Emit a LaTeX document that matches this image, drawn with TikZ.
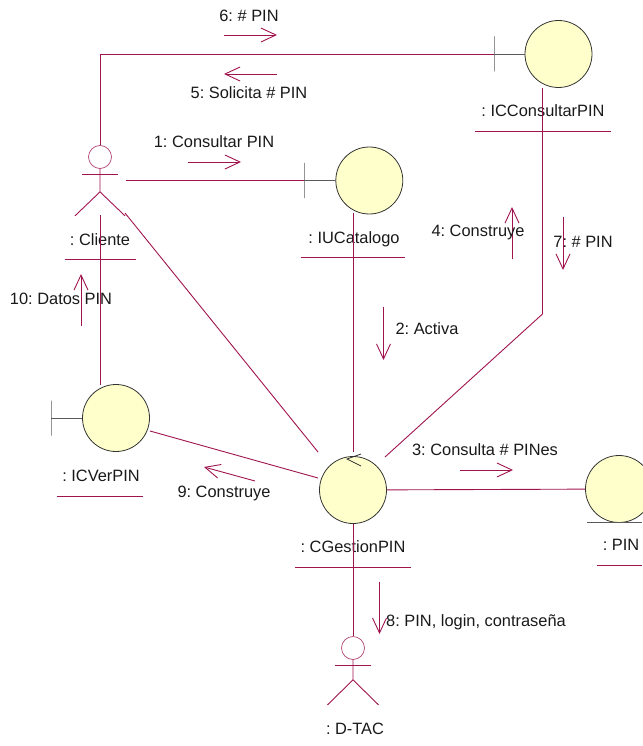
\documentclass[tikz,border=0pt]{standalone}
\usepackage{fontspec}
\setmainfont{Liberation Sans}
\frenchspacing
\usetikzlibrary{arrows.meta}
\definecolor{linkred}{RGB}{160,20,78}
\definecolor{bargray}{RGB}{90,90,90}
\definecolor{ballfill}{RGB}{255,255,204}
\begin{document}
\begin{tikzpicture}[x=1pt,y=-1pt,line width=0.9pt,
        ball/.style={circle,draw=black!80,fill=ballfill,line width=0.8pt,minimum size=67pt,inner sep=0pt},
        head/.style={circle,draw=linkred!80,line width=0.7pt,minimum size=23pt,inner sep=0pt},
        bar/.style={draw=bargray,minimum height=35pt,minimum width=0pt,inner sep=0pt,outer sep=0pt,line width=0.8pt},
        lbl/.style={font=\fontsize{16.4}{19}\selectfont,text=black!90,inner sep=0pt,text height=11.8pt,text depth=0pt},
        link/.style={draw=linkred},
        msg/.style={draw=linkred,-{Straight Barb[length=15pt,width=14pt,line width=0.9pt]}}]
        \useasboundingbox (0,0) rectangle (642,746);

        % links under everything
        \node[bar] (bar1) at (494,54) {};
        \node[bar] (bar2) at (304,180.5) {};
        \node[bar] (bar3) at (51,418) {};

        \node[ball] (consultar) at (558.5,54) {};
        \node[ball] (catalogo) at (369.3,180.5) {};
        \node[ball] (verpin) at (116,418) {};
        \node[ball] (gestion) at (353,490) {};
        \node[ball] (pin) at (619,489) {};

        \node[head] (cliente) at (100,157) {};
        \node[head] (dtac) at (353,648) {};

        \node[lbl] (lcliente) at (100,240) {: Cliente};
        \node[lbl] (lcatalogo) at (354,238) {: IUCatalogo};
        \node[lbl] (lconsultar) at (543,111) {: ICConsultarPIN};
        \node[lbl] (lverpin) at (101,476) {: ICVerPIN};
        \node[lbl] (lgestion) at (353,547) {: CGestionPIN};
        \node[lbl] (lpin) at (621,545) {: PIN};
        \node[lbl] (ldtac) at (355,729) {: D-TAC};

        % underlines
        \coordinate (u1a) at (65,259);   \coordinate (u1b) at (136,259);
        \coordinate (u2a) at (301,257);  \coordinate (u2b) at (405,257);
        \coordinate (u3a) at (475,131);  \coordinate (u3b) at (611,131);
        \coordinate (u4a) at (57,496);   \coordinate (u4b) at (143,496);
        \coordinate (u5a) at (295,567);  \coordinate (u5b) at (411,567);
        \coordinate (u6a) at (597,565);  \coordinate (u6b) at (642,565);
        \coordinate (u7a) at (587,522);  \coordinate (u7b) at (642,522);
        \foreach \n in {1,...,6}
            \draw[link] (u\n a) -- (u\n b);
        \draw[bargray] (u7a) -- (u7b);

        % actors
        \draw[link] (cliente.south) -- ++(0,23) coordinate (hip1) -- ++(-25,24);
        \draw[link] (hip1) -- ++(25,24) coordinate (leg1);
        \draw[link] ([shift={(-18,6)}]cliente.south) -- ++(36,0);
        \draw[link] (dtac.south) -- ++(0,20) coordinate (hip2) -- ++(-25.5,25);
        \draw[link] (hip2) -- ++(25.5,25);
        \draw[link] ([shift={(-18,5.5)}]dtac.south) -- ++(36,0);

        % links
        \coordinate (kink) at (542.5,314);
        \coordinate (ktop) at (542.5,88);
        \coordinate (gtop) at (353,213);
        \coordinate (gctl) at (353,452);
        \coordinate (cl1) at (126,180.5);
        \coordinate (cl2) at (125,213);
        \coordinate (cl3) at (100.5,215);
        \coordinate (gl1) at (318,452);
        \coordinate (gl2) at (385,457);
        \coordinate (gl3) at (318,478);
        \coordinate (vp1) at (150,431);
        \coordinate (vp2) at (100.5,385);
        \path[link]
        (cliente.north) |- (bar1)
        (bar1) edge[bargray] (consultar)
        (cl1) edge (bar2)
        (bar2) edge[bargray] (catalogo)
        (cl2) edge (gl1)
        (cl3) edge (vp2)
        (bar3) edge[bargray] (verpin)
        (vp1) edge (gl3)
        (gtop) edge (gctl)
        (ktop) edge (kink)
        (kink) edge (gl2)
        (gestion) edge (pin)
        (gestion) edge (dtac)
        ;
        \draw[black!80,line width=0.8pt] (361,454) -- (347,459) -- (361,466);

        % messages
        \foreach \n/\ax/\ay/\bx/\by in {
            1/188/162/241/162, 2/383.5/307/383.5/360, 3/460/470/513/470,
            4/512/259/512/207, 5/277/74/224/74, 6/224/35/277/35,
            7/563/217/563/270, 8/379.5/582/379.5/634, 9/255/481/204/467,
            10/81/326/81/274} {
            \coordinate (m\n a) at (\ax,\ay);
            \coordinate (m\n b) at (\bx,\by);
            \draw[msg] (m\n a) -- (m\n b);
        }

        \node[lbl] (t1) at (214,142) {1: Consultar PIN};
        \node[lbl] (t2) at (427,329) {2: Activa};
        \node[lbl] (t3) at (485,450) {3: Consulta \# PINes};
        \node[lbl] (t4) at (478,231) {4: Construye};
        \node[lbl] (t5) at (249,93) {5: Solicita \# PIN};
        \node[lbl] (t6) at (249,16) {6: \# PIN};
        \node[lbl] (t7) at (583,242) {7: \# PIN};
        \node[lbl] (t8) at (476,621) {8: PIN, login, contraseña};
        \node[lbl] (t9) at (224,491.5) {9: Construye};
        \node[lbl] (t10) at (61,299) {10: Datos PIN};
\end{tikzpicture}
\end{document}
